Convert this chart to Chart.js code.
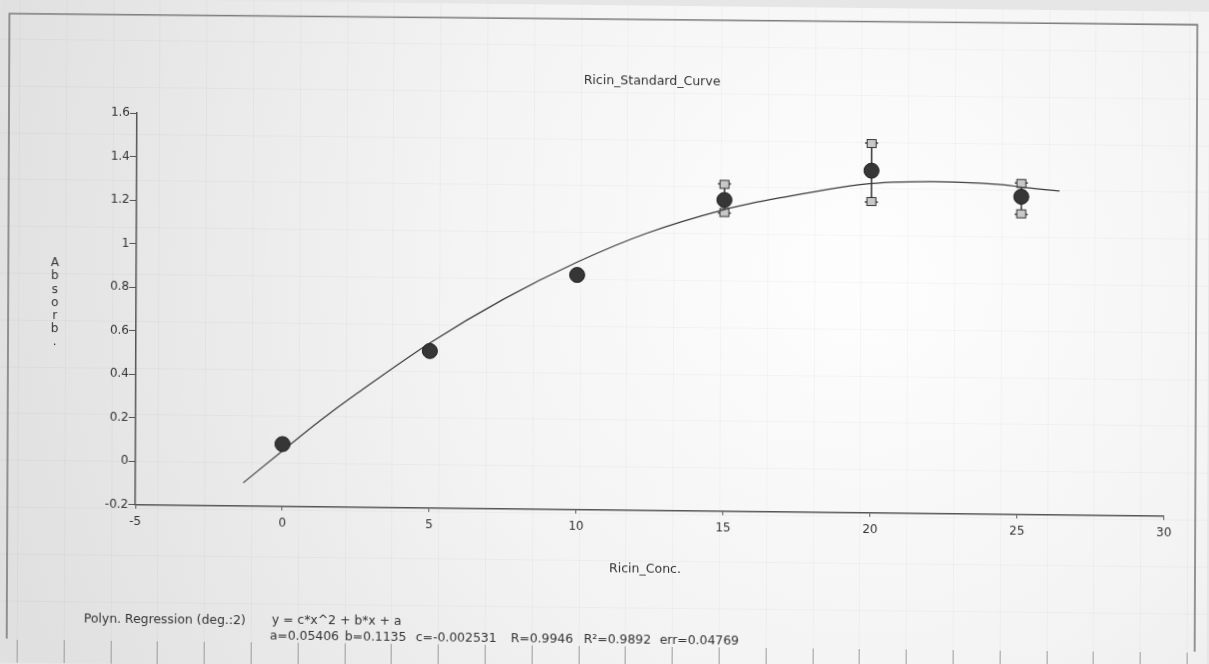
<!DOCTYPE html>
<html>
<head>
<meta charset="utf-8">
<script src="https://cdn.jsdelivr.net/npm/chart.js@4.4.1/dist/chart.umd.min.js"></script>
<style>
  html, body { margin:0; padding:0; background:#e6e6e6; overflow:hidden; }
  #wrap { width:1209px; height:664px; position:relative; }
  #c { position:absolute; left:0; top:0; transform-origin:137px 113px; transform:matrix(1, 0.011, -0.0043, 1, 0, 0); }
</style>
</head>
<body>
<div id="wrap"><canvas id="c" width="1209" height="664"></canvas></div>
<script>
// ---- data ----
const chartTitle = "Ricin_Standard_Curve";
const xTitle = "Ricin_Conc.";
const yTitle = "Absorb.";
const xTicks = [-5, 0, 5, 10, 15, 20, 25, 30];
const yTicks = [-0.2, 0, 0.2, 0.4, 0.6, 0.8, 1, 1.2, 1.4, 1.6];

const conc   = [0, 5, 10, 15, 20, 25.1];
const absorb = [0.086, 0.521, 0.878, 1.230, 1.372, 1.260];
const errLow  = [null, null, null, 1.170, 1.228, 1.179];
const errHigh = [null, null, null, 1.304, 1.499, 1.323];

// regression curve as traced on the picture
const fitX = [-1.33, 0, 1.27, 2.5, 5.0, 7.5, 10.0, 12.4, 15.0, 16.9, 19.7, 22.0, 24.3, 25.2, 26.4];
const fitY = [-0.094, 0.055, 0.195, 0.32, 0.558, 0.763, 0.937, 1.075, 1.186, 1.243, 1.309, 1.325, 1.316, 1.303, 1.288];

const regLine1a = "Polyn. Regression (deg.:2)";
const regLine1b = "y = c*x^2 + b*x + a";
const regTokens = ["a=0.05406", "b=0.1135", "c=-0.002531", "R=0.9946", "R\u00b2=0.9892", "err=0.04769"];

// ---- drawing ----
const FONT = "'DejaVu Sans', sans-serif";
const tokenX = [272, 347, 418, 513, 586, 662];

const backgroundPlugin = {
  id: 'paper',
  beforeDraw(chart) {
    const ctx = chart.ctx, W = chart.width, H = chart.height;
    ctx.save();
    const g = ctx.createRadialGradient(860, 260, 40, 860, 260, 900);
    g.addColorStop(0, '#fdfdfd');
    g.addColorStop(0.45, '#f3f3f3');
    g.addColorStop(1, '#e0e0e0');
    ctx.fillStyle = g;
    ctx.fillRect(-20, -20, W + 40, H + 40);
    // faint paper grid
    ctx.strokeStyle = 'rgba(0,0,0,0.028)';
    ctx.lineWidth = 1;
    for (let x = 112.6 - 3 * 46.8; x < W + 20; x += 46.8) {
      ctx.beginPath(); ctx.moveTo(Math.round(x) + 0.5, 0); ctx.lineTo(Math.round(x) + 0.5, 640); ctx.stroke();
    }
    for (let y = 40; y < 640; y += 46.8) {
      ctx.beginPath(); ctx.moveTo(0, Math.round(y) + 0.5); ctx.lineTo(W, Math.round(y) + 0.5); ctx.stroke();
    }
    // bottom strip marks
    ctx.strokeStyle = '#9a9a9a';
    for (let x = 112.6 - 2 * 46.8; x < W; x += 46.8) {
      ctx.beginPath(); ctx.moveTo(Math.round(x) + 0.5, 641); ctx.lineTo(Math.round(x) + 0.5, H + 20); ctx.stroke();
    }
    // page border
    ctx.strokeStyle = '#7c7c7c';
    ctx.lineWidth = 1.6;
    ctx.beginPath();
    ctx.moveTo(9, 640); ctx.lineTo(9, 15); ctx.lineTo(1197, 13); ctx.lineTo(1197, 640);
    ctx.stroke();
    ctx.restore();
  }
};

const errorBarPlugin = {
  id: 'errbars',
  beforeDatasetsDraw(chart) {
    const ctx = chart.ctx, xs = chart.scales.x, ys = chart.scales.y;
    ctx.save();
    ctx.strokeStyle = '#333';
    ctx.fillStyle = '#c8c8c8';
    ctx.lineWidth = 1.5;
    for (let i = 0; i < conc.length; i++) {
      if (errLow[i] == null) continue;
      const px = xs.getPixelForValue(conc[i]);
      const top = ys.getPixelForValue(errHigh[i]);
      const bot = ys.getPixelForValue(errLow[i]);
      ctx.beginPath(); ctx.moveTo(px, top); ctx.lineTo(px, bot); ctx.stroke();
      // caps
      ctx.beginPath(); ctx.moveTo(px - 6.5, top); ctx.lineTo(px + 6.5, top); ctx.stroke();
      ctx.beginPath(); ctx.moveTo(px - 6.5, bot); ctx.lineTo(px + 6.5, bot); ctx.stroke();
      // small boxes
      ctx.lineWidth = 1;
      ctx.fillRect(px - 4.5, top - 3.5, 9, 8); ctx.strokeRect(px - 4.5, top - 3.5, 9, 8);
      ctx.fillRect(px - 4.5, bot - 4.5, 9, 8); ctx.strokeRect(px - 4.5, bot - 4.5, 9, 8);
      ctx.lineWidth = 1.5;
    }
    ctx.restore();
  }
};

const textPlugin = {
  id: 'texts',
  afterDraw(chart) {
    const ctx = chart.ctx;
    ctx.save();
    ctx.fillStyle = '#333';
    ctx.font = '12.5px ' + FONT;
    ctx.textBaseline = 'middle';
    ctx.textAlign = 'center';
    ctx.fillText(chartTitle, 652, 75.5);
    ctx.fillText(xTitle, 647, 563.5);
    ctx.font = '12px ' + FONT;
    const letters = yTitle.split('');
    letters.forEach((ch, i) => ctx.fillText(ch, 55.6, 264 + i * 13.2));
    ctx.font = '12.4px ' + FONT;
    ctx.textAlign = 'left';
    ctx.fillText(regLine1a, 86, 619.5);
    ctx.fillText(regLine1b, 274, 619);
    regTokens.forEach((t, i) => ctx.fillText(t, tokenX[i], 635));
    ctx.restore();
  }
};

const tickFont = { family: FONT, size: 12 };

new Chart(document.getElementById('c'), {
  type: 'scatter',
  data: {
    datasets: [
      {
        label: 'fit',
        data: fitX.map((x, i) => ({ x: x, y: fitY[i] })),
        showLine: true,
        pointRadius: 0,
        borderColor: '#3c3c3c',
        borderWidth: 1.2,
        tension: 0.3,
        fill: false,
        order: 2
      },
      {
        label: yTitle,
        data: conc.map((x, i) => ({ x: x, y: absorb[i] })),
        pointRadius: 7.5,
        pointBackgroundColor: '#363636',
        pointBorderColor: '#1e1e1e',
        pointBorderWidth: 1,
        showLine: false,
        order: 1
      }
    ]
  },
  options: {
    responsive: false,
    animation: false,
    devicePixelRatio: 1,
    layout: { padding: { left: 0, top: 113, right: 43.3, bottom: 0 } },
    plugins: { legend: { display: false }, tooltip: { enabled: false }, title: { display: false } },
    scales: {
      x: {
        type: 'linear', min: -5, max: 30,
        afterBuildTicks: s => { s.ticks = xTicks.map(v => ({ value: v })); },
        afterFit: s => { s.height = 159.3; s.paddingLeft = 0; s.paddingRight = 0; },
        grid: { display: true, drawOnChartArea: false, tickLength: 4, color: '#555', lineWidth: 1 },
        border: { display: true, color: '#555', width: 1.5 },
        ticks: { color: '#333', font: tickFont, padding: 6, maxRotation: 0, autoSkip: false }
      },
      y: {
        type: 'linear', min: -0.2, max: 1.6,
        afterBuildTicks: s => { s.ticks = yTicks.map(v => ({ value: v })); },
        afterFit: s => { s.width = 137; s.paddingTop = 0; s.paddingBottom = 0; },
        grid: { display: true, drawOnChartArea: false, tickLength: 7, color: '#555', lineWidth: 1 },
        border: { display: true, color: '#555', width: 1.5 },
        ticks: { color: '#333', font: tickFont, padding: 0, autoSkip: false, callback: v => String(v) }
      }
    }
  },
  plugins: [backgroundPlugin, errorBarPlugin, textPlugin]
});
</script>
</body>
</html>
